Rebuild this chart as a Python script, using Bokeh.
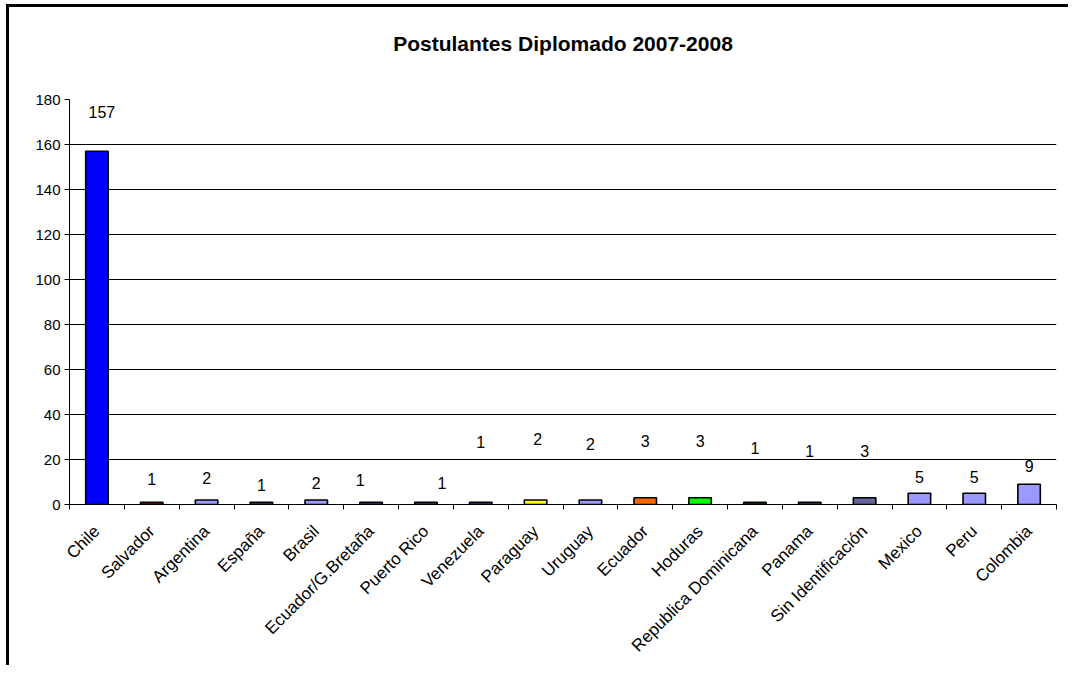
import numpy as np
from bokeh.plotting import figure
from bokeh.models import ColumnDataSource, FixedTicker, Range1d, LabelSet, Title
from bokeh.core.properties import value
from bokeh.embed import file_html
from bokeh.resources import INLINE
from math import pi

# ---- data ----
title_text = "Postulantes Diplomado 2007-2008"
countries = ["Chile", "Salvador", "Argentina", "España", "Brasil", "Ecuador/G.Bretaña",
             "Puerto Rico", "Venezuela", "Paraguay", "Uruguay", "Ecuador", "Hoduras",
             "Republica Dominicana", "Panama", "Sin Identificación", "Mexico", "Peru", "Colombia"]
postulantes = [157, 1, 2, 1, 2, 1, 1, 1, 2, 2, 3, 3, 1, 1, 3, 5, 5, 9]
bar_colors = ["#0000FF", "#800000", "#9999FF", "#333366", "#9999FF", "#333366",
              "#333366", "#333366", "#FFFF00", "#9999FF", "#FF6600", "#00FF00",
              "#003300", "#333366", "#666699", "#9999FF", "#9999FF", "#9999FF"]
y_ticks = [0, 20, 40, 60, 80, 100, 120, 140, 160, 180]

# label placement as in the reference (label heights in data units, x shifts in px)
label_y = [174.4, 11.3, 12.0, 8.7, 9.6, 10.7, 9.6, 28.0, 29.0, 26.7, 28.1, 28.4,
           25.1, 24.0, 23.6, 12.4, 12.4, 16.9]
label_dx = [5, 0, 0, 0, 0, -11, 16, 0, 2, 0, 0, 0, 0, 0, 0, 0, 0, 0]

FONT = "Liberation Sans"
n = len(countries)
xs = [i + 0.5 for i in range(n)]

src = ColumnDataSource(dict(x=xs, top=postulantes, fill=bar_colors,
                            ly=label_y, dx=label_dx,
                            txt=[str(v) for v in postulantes]))

W, H = 1062, 661
p = figure(width=W, height=H, output_backend="svg", toolbar_location=None,
           x_range=Range1d(0, n), y_range=Range1d(0, 180),
           title=title_text,
           min_border_left=60, min_border_right=15, min_border_top=92, min_border_bottom=164)
p.styles = {"border-left": "3px solid black", "border-top": "3px solid black",
            "margin-left": "6px", "margin-top": "4px"}

# main title (outermost) with a blank spacer panel between it and the plot area
p.add_layout(Title(text=" ", text_font_size="10px", standoff=27), "above")
p.title.align = "center"
p.title.offset = -13
p.title.text_font = FONT
p.title.text_font_size = "21px"
p.title.text_font_style = "bold"
p.title.text_color = "black"
p.title.standoff = 10

p.outline_line_color = None
p.background_fill_color = "white"
p.border_fill_color = "white"

# bars
p.vbar(x="x", top="top", width=0.41, bottom=0, fill_color="fill",
       line_color="black", line_width=1.6, source=src)

labels = LabelSet(x="x", y="ly", text="txt", x_offset="dx", source=src,
                  text_align="center", text_baseline="middle",
                  text_font=value(FONT), text_font_size=value("16px"),
                  text_color=value("black"))
p.add_layout(labels)

# grid
p.xgrid.grid_line_color = None
p.ygrid.grid_line_color = "black"
p.ygrid.grid_line_width = 1
p.ygrid.ticker = FixedTicker(ticks=y_ticks)

# y axis
p.yaxis.ticker = FixedTicker(ticks=y_ticks)
p.yaxis.axis_line_color = "black"
p.yaxis.major_tick_line_color = "black"
p.yaxis.major_tick_out = 5
p.yaxis.major_tick_in = 0
p.yaxis.minor_tick_line_color = None
p.yaxis.major_label_text_font = FONT
p.yaxis.major_label_text_font_size = "15px"
p.yaxis.major_label_text_color = "black"
p.yaxis.major_label_standoff = 4

# x axis: labels at category centres, tick marks at category boundaries
p.xaxis.ticker = FixedTicker(ticks=xs, minor_ticks=list(range(n + 1)))
p.xaxis.major_label_overrides = {x: c for x, c in zip(xs, countries)}
p.xaxis.major_label_orientation = pi / 4
p.xaxis.major_tick_line_color = None
p.xaxis.minor_tick_line_color = "black"
p.xaxis.minor_tick_out = 5
p.xaxis.minor_tick_in = 0
p.xaxis.axis_line_color = "black"
p.xaxis.major_label_text_font = FONT
p.xaxis.major_label_text_font_size = "17px"
p.xaxis.major_label_text_color = "black"
p.xaxis.major_label_standoff = 18

open("out.html", "w").write(file_html(p, INLINE))
